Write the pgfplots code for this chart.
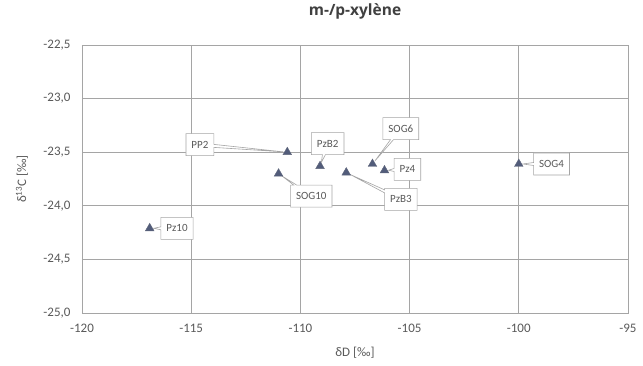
\documentclass[border=0pt]{standalone}
\usepackage{fontspec}
\setmainfont{Carlito}
\newfontfamily\titlefont{Open Sans}
\usepackage{pgfplots}
\pgfplotsset{compat=1.18}
\usetikzlibrary{shapes.callouts}
\definecolor{gridc}{RGB}{165,165,165}
\definecolor{txt}{RGB}{89,89,89}
\definecolor{ttl}{RGB}{64,64,64}
\definecolor{mk}{RGB}{82,92,122}
\begin{document}
\begin{tikzpicture}[x=1pt,y=1pt,
  lbl/.style={rectangle callout, draw=gridc, line width=0.6pt, fill=white, text=txt,
    font=\fontsize{11}{13}\selectfont, inner xsep=5.5pt, inner ysep=3pt, minimum height=22pt,
    callout pointer width=3pt, callout pointer shorten=4pt}]
\begin{axis}[
  at={(0,0)}, anchor=south west, scale only axis, width=546pt, height=268pt,
  xmin=-120, xmax=-95, ymin=-25, ymax=-22.5,
  xtick={-120,-115,-110,-105,-100,-95},
  ytick={-25,-24.5,-24,-23.5,-23,-22.5},
  grid=major, major grid style={gridc, line width=0.9pt},
  axis line style={gridc, line width=0.9pt},
  tick style={draw=none},
  /pgf/number format/assume math mode=true,
  ticklabel style={font=\fontsize{13}{15}\selectfont, text=txt},
  xticklabel style={yshift=-8pt, /pgf/number format/.cd, fixed, precision=0},
  yticklabel style={xshift=-8pt, /pgf/number format/.cd, fixed, fixed zerofill, precision=1, use comma},
  xlabel={δD [‰]}, ylabel={δ\textsuperscript{13}C [‰]},
  every axis x label/.style={at={(axis description cs:0.5,0)}, anchor=center, yshift=-40pt, font=\fontsize{13}{15}\selectfont, text=txt},
  every axis y label/.style={at={(axis description cs:0,0.5)}, xshift=-60pt, rotate=90, anchor=center, font=\fontsize{13}{15}\selectfont, text=txt},
  title={m-/p-xylène},
  title style={at={(axis description cs:0.5,1)}, anchor=center, yshift=28pt, font=\titlefont\bfseries\fontsize{15.5}{18}\selectfont, text=ttl},
]
\addplot[only marks, mark=triangle*, mark size=5pt, mark options={fill=mk, draw=mk!70!gray, line width=0.4pt}] table {
x y
-110.6 -23.50
-109.1 -23.63
-111.0 -23.70
-107.9 -23.69
-106.7 -23.61
-106.15 -23.67
-100.0 -23.61
-116.9 -24.21
};
\node[lbl, callout absolute pointer={(axis cs:-110.6,-23.50)}] at (axis cs:-114.6,-23.43) {PP2};
\node[lbl, callout absolute pointer={(axis cs:-109.1,-23.63)}] at (axis cs:-108.75,-23.42) {PzB2};
\node[lbl, callout absolute pointer={(axis cs:-111.0,-23.70)}] at (axis cs:-109.5,-23.91) {SOG10};
\node[lbl, callout absolute pointer={(axis cs:-107.9,-23.69)}] at (axis cs:-105.4,-23.94) {PzB3};
\node[lbl, callout absolute pointer={(axis cs:-106.7,-23.61)}] at (axis cs:-105.4,-23.28) {SOG6};
\node[lbl, callout absolute pointer={(axis cs:-106.15,-23.67)}] at (axis cs:-105.1,-23.66) {Pz4};
\node[lbl, callout absolute pointer={(axis cs:-100.0,-23.61)}] at (axis cs:-98.5,-23.61) {SOG4};
\node[lbl, callout absolute pointer={(axis cs:-116.9,-24.21)}] at (axis cs:-115.65,-24.21) {Pz10};
\end{axis}
\pgfresetboundingbox
\useasboundingbox (-82,-53) rectangle (561,313);
\end{tikzpicture}
\end{document}
